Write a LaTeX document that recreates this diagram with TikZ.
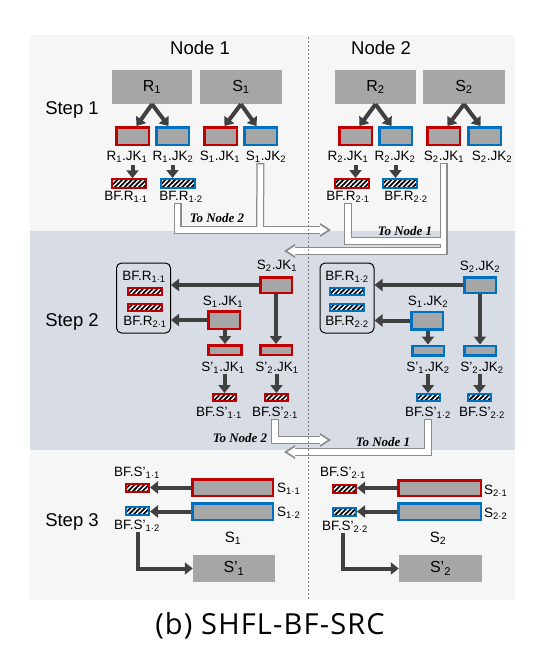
\documentclass[tikz,border=0pt]{standalone}
\usepackage{fontspec}
\setmainfont{Liberation Sans}
\newfontfamily\pipefont{Liberation Serif}
\newfontfamily\capfont[LetterSpace=4]{Open Sans}
\usetikzlibrary{arrows.meta,patterns.meta}
\definecolor{jkred}{HTML}{C00000}
\definecolor{jkblue}{HTML}{0070C0}
\definecolor{tblgray}{HTML}{A6A6A6}
\definecolor{arrgray}{HTML}{404040}
\definecolor{pipegray}{HTML}{8C8C8C}
\definecolor{bandblue}{HTML}{D8DDE5}
\definecolor{bggray}{HTML}{F6F6F6}
\tikzset{
  tbl/.style={fill=tblgray, inner sep=0pt, font=\fontsize{16}{16}\selectfont},
  jk/.style={draw=#1, line width=2.5pt, fill=tblgray, inner sep=0pt, minimum width=32.5pt, minimum height=17.5pt},
  bf/.style={draw=#1, line width=2pt, inner sep=0pt, minimum width=34pt, minimum height=9pt,
    preaction={fill=black}, pattern={Lines[angle=45,distance=3.4pt,line width=1.4pt]}, pattern color=white},
  lbl/.style={inner sep=0pt, font=\fontsize{13.5}{13.5}\selectfont},
  head/.style={inner sep=0pt, font=\fontsize{18.5}{18.5}\selectfont},
  grp/.style={draw=black, line width=1pt, rounded corners=5pt, inner sep=0pt, minimum width=54pt, minimum height=70pt},
  arr/.style={draw=arrgray, line width=4pt, -{Triangle[width=12pt,length=8pt]}},
  pipeo/.style={draw=pipegray, line width=8pt},
  pipei/.style={draw=white, line width=5.5pt, shorten <=1.3pt},
  pipetext/.style={inner sep=0pt, font=\pipefont\bfseries\itshape\fontsize{13}{13}\selectfont}
}

\begin{document}
\begin{tikzpicture}[x=1pt, y=-1pt]
\useasboundingbox (0,0) rectangle (545,665);
\fill[bggray] (30,35) rectangle (515,600);
\fill[bandblue] (30,231) rectangle (515,450);

% headers
\node[head] (n1) at (200,48) {Node 1};
\node[head] (n2) at (381,48) {Node 2};
\node[head] (st1) at (72,110) {Step 1};
\node[head] (st2) at (72,322) {Step 2};
\node[head] (st3) at (72,522) {Step 3};

% step 1, node 1
\node[tbl, minimum width=80pt, minimum height=34pt] (r1) at (152,87) {R\textsubscript{1}};
\node[tbl, minimum width=82pt, minimum height=34pt] (s1) at (241,87) {S\textsubscript{1}};
\node[jk=jkred]  (rjk11) at (132.5,136) {};
\node[jk=jkblue] (rjk12) at (172.5,136) {};
\node[jk=jkred]  (sjk11) at (220.5,136) {};
\node[jk=jkblue] (sjk12) at (260.5,136) {};
\node[lbl] (lrjk11) at (127,157) {R\textsubscript{1}.JK\textsubscript{1}};
\node[lbl] (lrjk12) at (173,157) {R\textsubscript{1}.JK\textsubscript{2}};
\node[lbl] (lsjk11) at (220,157) {S\textsubscript{1}.JK\textsubscript{1}};
\node[lbl] (lsjk12) at (266,157) {S\textsubscript{1}.JK\textsubscript{2}};
\node[bf=jkred]  (bfr11) at (129,183.5) {};
\node[bf=jkblue] (bfr12) at (177.5,183.5) {};
\node[lbl] (lbfr11) at (126,197) {BF.R\textsubscript{1·1}};
\node[lbl] (lbfr12) at (181,197) {BF.R\textsubscript{1·2}};

% step 1, node 2
\node[tbl, minimum width=81pt, minimum height=34pt] (r2) at (375.5,87) {R\textsubscript{2}};
\node[tbl, minimum width=82pt, minimum height=34pt] (s2) at (464,87) {S\textsubscript{2}};
\node[jk=jkred]  (rjk21) at (355.5,136) {};
\node[jk=jkblue] (rjk22) at (395.5,136) {};
\node[jk=jkred]  (sjk21) at (443.5,136) {};
\node[jk=jkblue] (sjk22) at (484.5,136) {};
\node[lbl] (lrjk21) at (348,157) {R\textsubscript{2}.JK\textsubscript{1}};
\node[lbl] (lrjk22) at (395,157) {R\textsubscript{2}.JK\textsubscript{2}};
\node[lbl] (lsjk21) at (444,157) {S\textsubscript{2}.JK\textsubscript{1}};
\node[lbl] (lsjk22) at (492,157) {S\textsubscript{2}.JK\textsubscript{2}};
\node[bf=jkred]  (bfr21) at (351.5,183.5) {};
\node[bf=jkblue] (bfr22) at (400,183.5) {};
\node[lbl] (lbfr21) at (348,197) {BF.R\textsubscript{2·1}};
\node[lbl] (lbfr22) at (406,197) {BF.R\textsubscript{2·2}};

\foreach \t/\a/\b in {r1/rjk11/rjk12, s1/sjk11/sjk12, r2/rjk21/rjk22, s2/sjk21/sjk22}
{
  \draw[arr] (\t.south) -- ([xshift=4pt]\a.north);
  \draw[arr] (\t.south) -- ([xshift=-4pt]\b.north);
}
\foreach \i/\j in {rjk11/bfr11, rjk12/bfr12, rjk21/bfr21, rjk22/bfr22}
  \draw[arr] (\i.south |- 0,165) -- (\i.south |- \j.north);

% step 2, node 1
\node[grp] (g1) at (143.5,298) {};
\node[lbl] (lg11) at (144,277) {BF.R\textsubscript{1·1}};
\node[bf=jkred, minimum height=7pt] (h11) at (145,291.5) {};
\node[bf=jkred, minimum height=7pt] (h12) at (145,307) {};
\node[lbl] (lg12) at (145,322) {BF.R\textsubscript{2·1}};
\node[jk=jkred, minimum width=31.5pt, minimum height=15.5pt] (sj21) at (276,285) {};
\node[lbl] (lsj21) at (277,266) {S\textsubscript{2}.JK\textsubscript{1}};
\node[jk=jkred, minimum width=31.5pt, minimum height=17.5pt] (sj11) at (224,320) {};
\node[lbl] (lsj11) at (223,302) {S\textsubscript{1}.JK\textsubscript{1}};
\node[jk=jkred, minimum width=33pt, minimum height=9.5pt] (sp11) at (225,350) {};
\node[jk=jkred, minimum width=31.5pt, minimum height=9.5pt] (sp21) at (276,350) {};
\node[lbl] (lsp11) at (223,368) {S'\textsubscript{1}.JK\textsubscript{1}};
\node[lbl] (lsp21) at (277,368) {S'\textsubscript{2}.JK\textsubscript{1}};
\node[bf=jkred, minimum width=23pt, minimum height=7pt] (bfs11) at (224.5,397.5) {};
\node[bf=jkred, minimum width=23pt, minimum height=7pt] (bfs21) at (276.5,397.5) {};
\node[lbl] (lbfs11) at (219,413) {BF.S'\textsubscript{1·1}};
\node[lbl] (lbfs21) at (275,413) {BF.S'\textsubscript{2·1}};

% step 2, node 2
\node[grp] (g2) at (347,298) {};
\node[lbl] (lg21) at (347,277) {BF.R\textsubscript{1·2}};
\node[bf=jkblue, minimum height=7pt] (h21) at (347,291.5) {};
\node[bf=jkblue, minimum height=7pt] (h22) at (347,307) {};
\node[lbl] (lg22) at (347,322) {BF.R\textsubscript{2·2}};
\node[jk=jkblue, minimum width=31.5pt, minimum height=15.5pt] (sj22) at (480,285) {};
\node[lbl] (lsj22) at (480,267) {S\textsubscript{2}.JK\textsubscript{2}};
\node[jk=jkblue, minimum width=31.5pt, minimum height=17.5pt] (sj12) at (427,320.5) {};
\node[lbl] (lsj12) at (428,302) {S\textsubscript{1}.JK\textsubscript{2}};
\node[jk=jkblue, minimum width=31.5pt, minimum height=9.5pt] (sp12) at (428,350.5) {};
\node[jk=jkblue, minimum width=31.5pt, minimum height=9.5pt] (sp22) at (480,350.5) {};
\node[lbl] (lsp12) at (428,368) {S'\textsubscript{1}.JK\textsubscript{2}};
\node[lbl] (lsp22) at (482,368) {S'\textsubscript{2}.JK\textsubscript{2}};
\node[bf=jkblue, minimum width=23pt, minimum height=7pt] (bfs12) at (428,397.5) {};
\node[bf=jkblue, minimum width=23pt, minimum height=7pt] (bfs22) at (479.5,397.5) {};
\node[lbl] (lbfs12) at (428,413) {BF.S'\textsubscript{1·2}};
\node[lbl] (lbfs22) at (482,413) {BF.S'\textsubscript{2·2}};

\foreach \s/\g in {sj21/g1, sj11/g1, sj22/g2, sj12/g2}
  \draw[arr] (\s.west) -- (\s.west -| \g.east);
\foreach \i/\j in {sj21/sp21, sj11/sp11, sj22/sp22, sj12/sp12, lsp11/bfs11, lsp21/bfs21, lsp12/bfs12, lsp22/bfs22}
  \draw[arr] (\j.north |- \i.south) -- (\j.north);

% step 3, node 1
\node[lbl] (lt11) at (137,473) {BF.S'\textsubscript{1·1}};
\node[bf=jkred, minimum width=23pt, minimum height=8pt] (t11) at (137.5,488) {};
\node[bf=jkblue, minimum width=23pt, minimum height=8pt] (t12) at (137.5,511) {};
\node[lbl] (lt12) at (137,526) {BF.S'\textsubscript{1·2}};
\node[jk=jkred, minimum width=80.5pt, minimum height=16.5pt] (p11) at (232.5,487.5) {};
\node[jk=jkblue, minimum width=80.5pt, minimum height=16.5pt] (p12) at (232.5,511.5) {};
\node[lbl, anchor=west] (lp11) at (277,489) {S\textsubscript{1·1}};
\node[lbl, anchor=west] (lp12) at (277,513) {S\textsubscript{1·2}};
\node[inner sep=0pt, font=\fontsize{15}{15}\selectfont] (ls1) at (233,538) {S\textsubscript{1}};
\node[tbl, minimum width=82pt, minimum height=27pt] (sn1) at (234,568.5) {S'\textsubscript{1}};

% step 3, node 2
\node[lbl] (lt21) at (343,473) {BF.S'\textsubscript{2·1}};
\node[bf=jkred, minimum width=23pt, minimum height=8pt] (t21) at (344.5,488.5) {};
\node[bf=jkblue, minimum width=23pt, minimum height=8pt] (t22) at (344.5,511.5) {};
\node[lbl] (lt22) at (345,527) {BF.S'\textsubscript{2·2}};
\node[jk=jkred, minimum width=82.5pt, minimum height=15.5pt] (p21) at (439.5,488) {};
\node[jk=jkblue, minimum width=82.5pt, minimum height=16.5pt] (p22) at (439.5,511.5) {};
\node[lbl, anchor=west] (lp21) at (484,491) {S\textsubscript{2·1}};
\node[lbl, anchor=west] (lp22) at (484,514) {S\textsubscript{2·2}};
\node[inner sep=0pt, font=\fontsize{15}{15}\selectfont] (ls2) at (438,538) {S\textsubscript{2}};
\node[tbl, minimum width=83pt, minimum height=27pt] (sn2) at (440.5,568.5) {S'\textsubscript{2}};

\foreach \p/\t in {p11/t11, p12/t12, p21/t21, p22/t22}
  \draw[arr] (\p.west) -- (\p.west -| \t.east);
\draw[arr] ([xshift=1pt]lt12.south) |- (sn1.west);
\draw[arr] ([xshift=-2pt]lt22.south) |- (sn2.west);

% transfers between nodes
\foreach \w in {pipeo, pipei}
{
  \draw[\w] (bfr12.south |- lbfr12.south) |- (320,230);
  \draw[\w] (sjk12.south |- lsjk12.south) -- (260,230);
  \draw[\w] (lbfr21.south) |- (445,241);
  \draw[\w] (sjk21.south |- lsjk21.south) |- (295,251);
  \draw[\w] (lbfs21.south) |- (320,440);
  \draw[\w] (lbfs12.south) |- (295,452);
}
\foreach \x/\y/\d in {320/230/1, 295/251/-1, 320/440/1, 295/452/-1}
{
  \fill[pipegray] (\x,\y-7) -- (\x+\d*11,\y) -- (\x,\y+7) -- cycle;
  \fill[white] (\x,\y-4.8) -- (\x+\d*7.6,\y) -- (\x,\y+4.8) -- cycle;
  \fill[white] (\x-\d*2,\y-2.75) rectangle (\x+\d*0.5,\y+2.75);
}
\node[pipetext] (tn2a) at (217,218) {To Node 2};
\node[pipetext] (tn1a) at (405,231) {To Node 1};
\node[pipetext] (tn2b) at (240,438) {To Node 2};
\node[pipetext] (tn1b) at (383,442) {To Node 1};

\draw[gray, line width=0.8pt, dash pattern=on 2pt off 2pt] (308,37) -- (308,600);

\node[inner sep=0pt, font=\capfont\fontsize{29}{29}\selectfont] (cap) at (270,626) {(b) SHFL-BF-SRC};
\end{tikzpicture}
\end{document}
